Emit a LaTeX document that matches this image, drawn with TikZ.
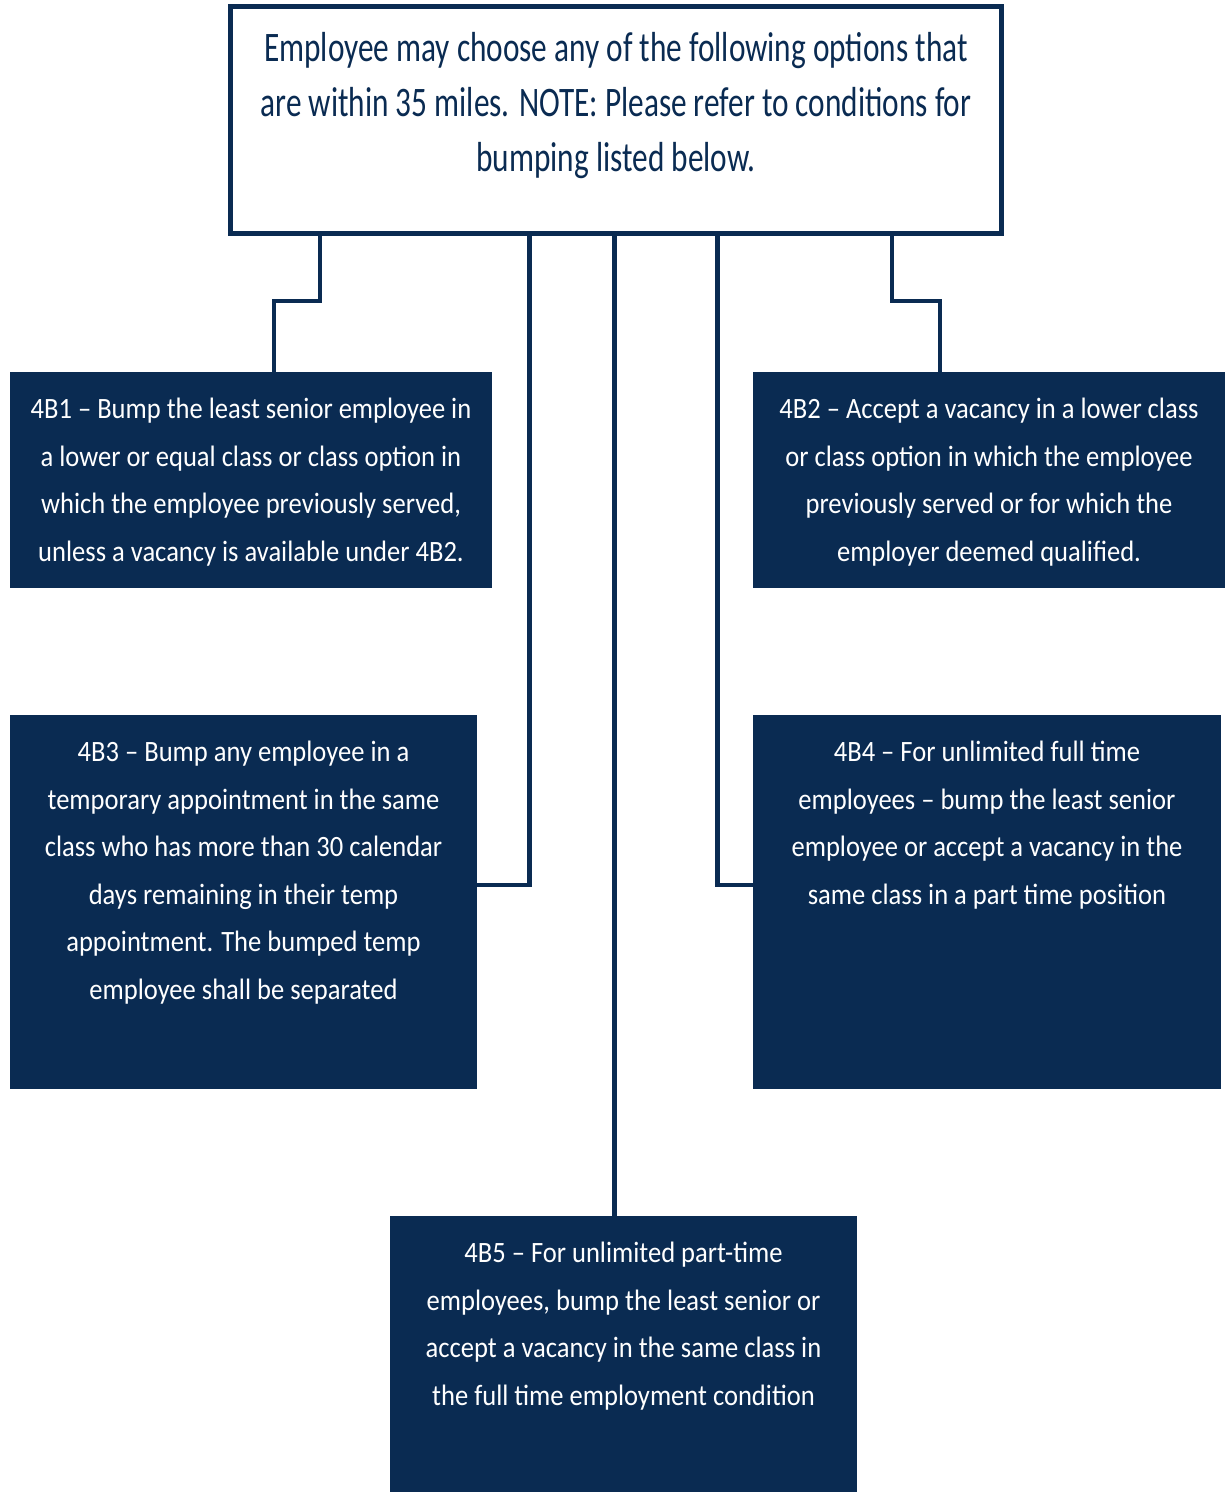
\documentclass[tikz,border=0pt]{standalone}
\usepackage{fontspec}
\setmainfont[FakeStretch=0.90]{Carlito}
\newfontfamily\headfont[FakeStretch=0.745]{Carlito}
\definecolor{navy}{HTML}{0A2B52}
\newcommand{\optext}[3]{\parbox[c][#2][t]{#1}{\centering\fontsize{29.5}{47.5}\selectfont\vspace*{13.25pt}\strut#3}}
\newcommand{\headtext}[3]{\parbox[c][#2][t]{#1}{\centering\headfont\fontsize{42}{55}\selectfont\vspace*{16.5pt}\strut#3}}
\begin{document}
\begin{tikzpicture}[x=1pt,y=-1pt,
  conn/.style={draw=navy,line width=4.5pt},
  optbox/.style={fill=navy,text=white,inner sep=0pt,outer sep=0pt,anchor=north west},
  headbox/.style={draw=navy,line width=5pt,fill=white,text=navy,inner sep=0pt,anchor=north west}]
\useasboundingbox[fill=white] (0,0) rectangle (1225,1492);
\node[headbox] (choose) at (228,4) {\headtext{771pt}{227pt}{Employee may choose any of the following options that\\are within 35 miles. NOTE: Please refer to conditions for\\bumping listed below.}};
\node[optbox] (bumpleast) at (10,372) {\optext{482pt}{216pt}{4B1 -- Bump the least senior employee in\\a lower or equal class or class option in\\which the employee previously served,\\unless a vacancy is available under 4B2.}};
\node[optbox] (lowervac) at (753,372) {\optext{472pt}{216pt}{4B2 -- Accept a vacancy in a lower class\\or class option in which the employee\\previously served or for which the\\employer deemed qualified.}};
\node[optbox] (bumptemp) at (10,715) {\optext{467pt}{374pt}{4B3 -- Bump any employee in a\\temporary appointment in the same\\class who has more than 30 calendar\\days remaining in their temp\\appointment. The bumped temp\\employee shall be separated}};
\node[optbox] (fulltime) at (753,715) {\optext{468pt}{374pt}{4B4 -- For unlimited full time\\employees -- bump the least senior\\employee or accept a vacancy in the\\same class in a part time position}};
\node[optbox] (parttime) at (390,1216) {\optext{467pt}{276pt}{4B5 -- For unlimited part-time\\employees, bump the least senior or\\accept a vacancy in the same class in\\the full time employment condition}};
\draw[conn] (320,0 |- choose.south) -- (320,301) -- (274,301) -- (274,0 |- bumpleast.north);
\draw[conn] (892,0 |- choose.south) -- (892,301) -- (940,301) -- (940,0 |- lowervac.north);
\draw[conn] (529.5,0 |- choose.south) -- (529.5,885) -- (bumptemp.east |- 0,885);
\draw[conn] (717.5,0 |- choose.south) -- (717.5,885) -- (fulltime.west |- 0,885);
\draw[conn] (614.5,0 |- choose.south) -- (614.5,0 |- parttime.north);
\end{tikzpicture}
\end{document}
